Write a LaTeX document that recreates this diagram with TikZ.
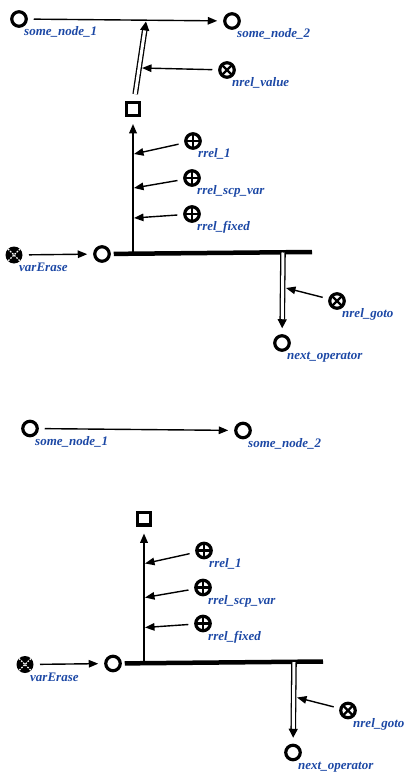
\documentclass[tikz,border=0pt]{standalone}
\usepackage{fontspec}
\setmainfont{Liberation Serif}
\usetikzlibrary{arrows.meta}
\definecolor{scglabel}{RGB}{28,72,165}
\tikzset{
  lbl/.style={anchor=base west, xshift=5pt, yshift=-16.5pt, inner sep=0pt,
    text=scglabel, font=\fontsize{13}{13}\selectfont\bfseries\itshape},
  scgnode/.style={circle, draw, line width=3.2pt, minimum size=14.5pt,
    inner sep=0pt, outer sep=7.5pt},
  role/.style={scgnode, path picture={
    \draw[line width=2.4pt] (path picture bounding box.north) -- (path picture bounding box.south)
      (path picture bounding box.west) -- (path picture bounding box.east);}},
  norole/.style={scgnode, path picture={
    \draw[line width=2.4pt] (path picture bounding box.north west) -- (path picture bounding box.south east)
      (path picture bounding box.north east) -- (path picture bounding box.south west);}},
  varnode/.style={circle, fill=black, minimum size=17pt, inner sep=0pt, outer sep=6.5pt,
    path picture={
    \draw[white, line width=1.3pt, dash pattern=on 1.6pt off 1.4pt]
      ([shift={(2.5pt,-2.5pt)}]path picture bounding box.north west) -- ([shift={(-2.5pt,2.5pt)}]path picture bounding box.south east)
      ([shift={(-2.5pt,-2.5pt)}]path picture bounding box.north east) -- ([shift={(2.5pt,2.5pt)}]path picture bounding box.south west);}},
  sqnode/.style={rectangle, draw, line width=3.2pt, minimum size=12.8pt,
    inner sep=0pt, outer sep=8.5pt},
  arc/.style={line width=1.4pt, -{Triangle[length=9.5pt,width=7.5pt]}},
  vertarc/.style={line width=2pt, -{Triangle[length=9.5pt,width=7.5pt]}},
  bus/.style={line width=4.5pt},
  common/.style={line width=1.3pt, double=white, double distance=3pt,
    -{Triangle[length=9pt,width=9pt]}},
}
% caption of a node, set below right of its centre
\newcommand\scgcaption[2]{\node[lbl] (#1-lbl) at (#1.center) {#2};}
% one operator block: its nodes, bus and arcs; #1 prefixes the names
\newcommand\opblock[1]{%
  \node[scgnode] (#1n1) at (19,19) {};
  \node[scgnode] (#1n2) at (232,21) {};
  \node[sqnode] (#1sq) at (133,109) {};
  \node[varnode] (#1ve) at (14,255) {};
  \node[scgnode] (#1op) at (102,254) {};
  \node[role] (#1r1) at (193,141) {};
  \node[role] (#1r2) at (192,178) {};
  \node[role] (#1r3) at (192,214) {};
  \node[norole] (#1ng) at (337,301) {};
  \node[scgnode] (#1nx) at (282,343) {};
  \scgcaption{#1n1}{some\_node\_1}
  \scgcaption{#1n2}{some\_node\_2}
  \scgcaption{#1ve}{varErase}
  \scgcaption{#1r1}{rrel\_1}
  \scgcaption{#1r2}{rrel\_scp\_var}
  \scgcaption{#1r3}{rrel\_fixed}
  \scgcaption{#1ng}{nrel\_goto}
  \scgcaption{#1nx}{next\_operator}
  \coordinate (#1bend) at (312,252);
  \coordinate (#1b1) at (133,253.2);
  \coordinate (#1b2) at (283,252.5);
  \coordinate (#1t1) at (134,154);
  \coordinate (#1t2) at (134,188);
  \coordinate (#1t3) at (134,218);
  \coordinate (#1tg) at (286,288);
  \draw[arc] (#1n1) -- (#1n2);
  \draw[arc] (#1ve) -- (#1op);
  \draw[bus, shorten <=-3pt] (#1op) -- (#1bend);
  \draw[vertarc] (#1b1) -- (#1sq);
  \draw[arc] (#1r1) -- (#1t1);
  \draw[arc] (#1r2) -- (#1t2);
  \draw[arc] (#1r3) -- (#1t3);
  \draw[common] (#1b2) -- (#1nx);
  \draw[arc] (#1ng) -- (#1tg);
}
\begin{document}
\begin{tikzpicture}[x=1pt, y=-1pt]
  \useasboundingbox (0,0) rectangle (414,781);
  % upper block, with the value relation on the arc between the two nodes
  \begin{scope}
    \opblock{a}
    \coordinate (ae1) at (146,21.5);
    \coordinate (adv) at (142,68);
    \node[norole] (anv) at (227,70) {};
    \scgcaption{anv}{nrel\_value}
    \draw[common] (asq) -- (ae1);
    \draw[arc] (anv) -- (adv);
  \end{scope}
  % lower block
  \begin{scope}[shift={(11,409.5)}]
    \opblock{b}
  \end{scope}
\end{tikzpicture}
\end{document}
